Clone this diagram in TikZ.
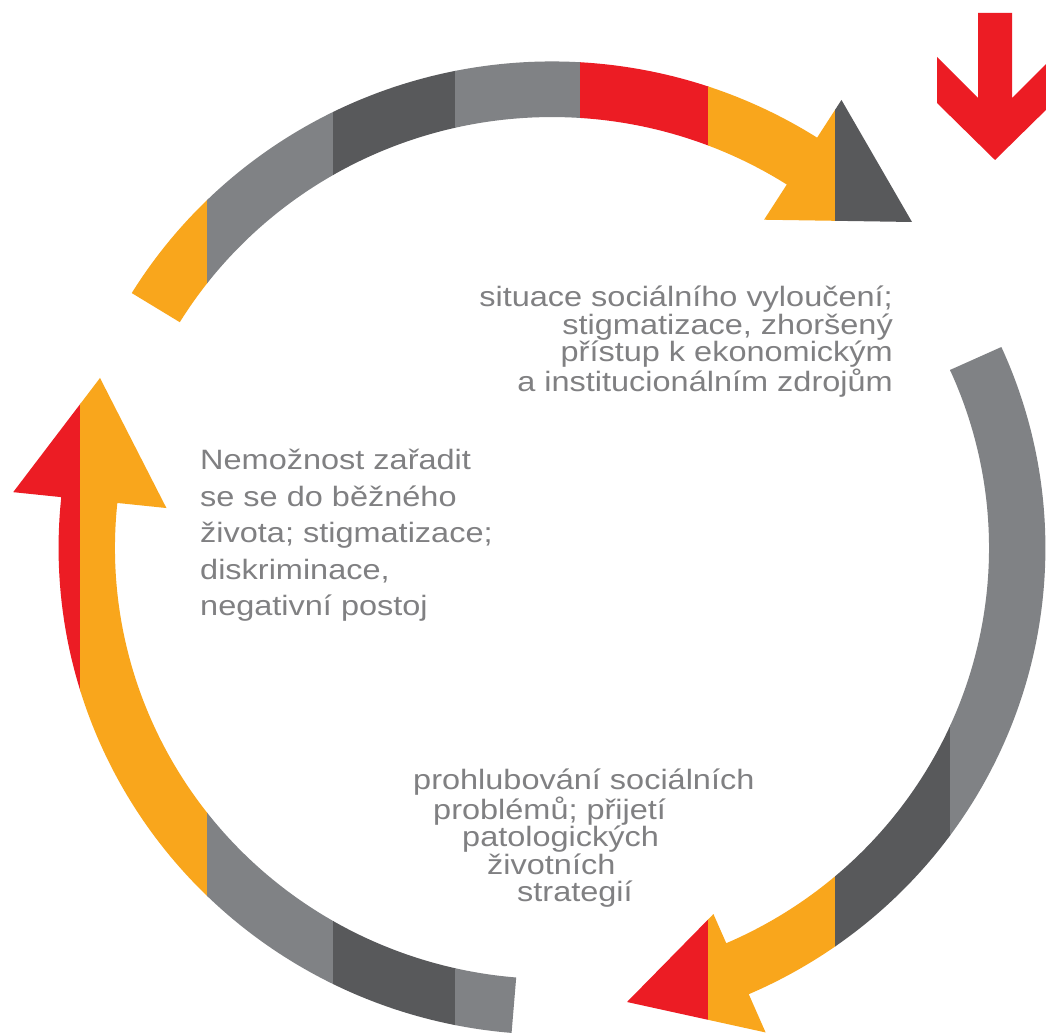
\documentclass[tikz,border=0pt]{standalone}
\usepackage{fontspec}
\newfontfamily\lblfont{Liberation Sans}[FakeStretch=1.16]
\usetikzlibrary{calc}
\definecolor{cyel}{HTML}{F9A61C}
\definecolor{cred}{HTML}{EC1C24}
\definecolor{cgry}{HTML}{808285}
\definecolor{cdrk}{HTML}{58595B}
\definecolor{ctxt}{HTML}{808082}
\begin{document}
\begin{tikzpicture}[x=1pt,y=1pt,
  ring/.style={shift={(552pt,486pt)},x=1.007pt,y=0.993pt},
  txtstyle/.style={inner sep=0pt,text=ctxt,font=\lblfont\fontsize{28}{27.5}\selectfont}]
\fill[white] (0,0) rectangle (1046,1034);
\useasboundingbox (0,0) rectangle (1046,1034);
% arrow tips (pixel frame, y up)
\coordinate (tipA) at (912,812);
\coordinate (tipB) at (627,32);
\coordinate (tipC) at (100,656);
\def\arrowA{(148.4:434) -- (148.4:490) arc[start angle=148.4,end angle=57.5,x radius=493.43pt,y radius=486.57pt] -- (57.5:535) -- (tipA) -- (57.5:392) -- (57.5:434) arc[start angle=57.5,end angle=148.4,x radius=437.04pt,y radius=430.96pt] -- cycle}
\def\arrowB{(24.4:434) -- (24.4:490) arc[start angle=24.4,end angle=-66.5,x radius=493.43pt,y radius=486.57pt] -- (-66.5:532) -- (tipB) -- (-66.5:402) -- (-66.5:434) arc[start angle=-66.5,end angle=24.4,x radius=437.04pt,y radius=430.96pt] -- cycle}
\def\arrowC{(265.3:434) -- (265.3:490) arc[start angle=265.3,end angle=174,x radius=493.43pt,y radius=486.57pt] -- (174:538) -- (tipC) -- (174:385) -- (174:434) arc[start angle=174,end angle=265.3,x radius=437.04pt,y radius=430.96pt] -- cycle}
\foreach \xa/\xb/\col in {0/207/cyel,207/333/cgry,333/455/cdrk,455/580/cgry,580/708/cred,708/835/cyel,835/1046/cdrk}{
  \begin{scope}\clip (\xa,0) rectangle ({\xb+0.7},1034); \fill[\col,ring] \arrowA; \end{scope}}
\foreach \xa/\xb/\col in {0/708/cred,708/835/cyel,835/950/cdrk,950/1046/cgry}{
  \begin{scope}\clip (\xa,0) rectangle ({\xb+0.7},1034); \fill[\col,ring] \arrowB; \end{scope}}
\foreach \xa/\xb/\col in {0/80/cred,80/207/cyel,207/333/cgry,333/455/cdrk,455/600/cgry}{
  \begin{scope}\clip (\xa,0) rectangle ({\xb+0.7},1034); \fill[\col,ring] \arrowC; \end{scope}}
% red down arrow
\fill[cred] (978,1021) -- (1012,1021) -- (1012,936) -- (1053,977) -- (1053,931) -- (995,874) -- (937,931) -- (937,977) -- (978,936) -- cycle;
% texts
\node[txtstyle,anchor=north east,align=right] (sit) at (893,748)
  {situace sociálního vyloučení;\\stigmatizace, zhoršený\\přístup k ekonomickým\\a institucionálním zdrojům};
\node[txtstyle,anchor=north west,align=left,font=\lblfont\fontsize{28}{36.5}\selectfont] (nem) at (200,585)
  {Nemožnost zařadit\\se se do běžného\\života; stigmatizace;\\diskriminace,\\negativní postoj};
\node[txtstyle,anchor=north west,align=left] (pro) at (413,265)
  {prohlubování sociálních\\\hspace*{20pt}problémů; přijetí\\\hspace*{49pt}patologických\\\hspace*{74pt}životních\\\hspace*{104pt}strategií};
\end{tikzpicture}
\end{document}
